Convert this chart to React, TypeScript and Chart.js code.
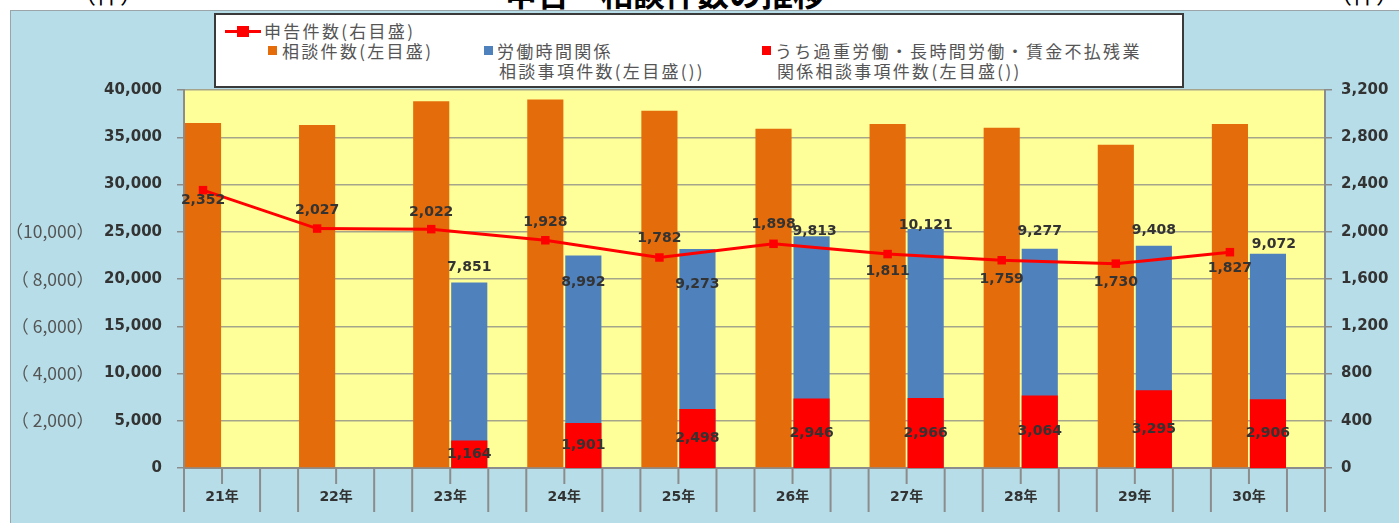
import React, { useEffect, useRef } from 'react';
import { Chart, registerables } from 'chart.js';

Chart.register(...registerables);

// ---- data ----
const years = ['21年', '22年', '23年', '24年', '25年', '26年', '27年', '28年', '29年', '30年'];
const consultations = [36500, 36300, 38800, 39000, 37800, 35900, 36400, 36000, 34200, 36400];
const workingHours = [null, null, 7851, 8992, 9273, 9813, 10121, 9277, 9408, 9072];
const overwork = [null, null, 1164, 1901, 2498, 2946, 2966, 3064, 3295, 2906];
const complaints = [2352, 2027, 2022, 1928, 1782, 1898, 1811, 1759, 1730, 1827];

const leftMax = 40000;
const leftStep = 5000;
const subMax = 16000;
const subStep = 2000;
const subLabelMax = 10000;
const rightMax = 3200;
const rightStep = 400;

// ---- label placement (styles) ----
const lineLabelDy = [10, -18, -17, -18, -19, -19, 17, 19, 19, 16];
const blueLabelDx = [0, 0, 0, 0, 0, 3, 0, 0, 0, 6];
const blueLabelDy = [0, 0, -15, 27, 35, -5, -4, -17, -15, -9];

const fmt = (v: number) => v.toLocaleString('en-US');
const pts = (arr: (number | null)[]) => arr.map((v, i) => ({ x: i, y: v }));

const COLORS = {
  orange: '#E46C0A',
  blue: '#4F81BD',
  red: '#FF0000',
  plot: '#FFFF99',
  grid: '#A5A58C',
  axis: '#8C8C8C',
  text: '#333333',
};

const plotBg = {
  id: 'plotBg',
  beforeDraw(chart: any) {
    const { ctx, chartArea: a } = chart;
    ctx.save();
    ctx.fillStyle = COLORS.plot;
    ctx.fillRect(a.left, a.top, a.right - a.left, a.bottom - a.top);
    ctx.restore();
  },
};

const xTicks = {
  id: 'xTicks',
  afterDraw(chart: any) {
    const xs = chart.scales.x;
    const { ctx } = chart;
    const n = years.length;
    const w = (xs.right - xs.left) / n;
    const y0 = chart.chartArea.bottom;
    ctx.save();
    ctx.strokeStyle = COLORS.axis;
    ctx.lineWidth = 2;
    ctx.beginPath();
    for (let i = 0; i <= n; i++) {
      const x0 = xs.left + i * w;
      ctx.moveTo(x0, y0);
      ctx.lineTo(x0, y0 + 44);
      if (i < n) {
        ctx.moveTo(x0 + w / 3, y0);
        ctx.lineTo(x0 + w / 3, y0 + 16);
        ctx.moveTo(x0 + (2 * w) / 3, y0);
        ctx.lineTo(x0 + (2 * w) / 3, y0 + 44);
      }
    }
    ctx.stroke();
    ctx.restore();
  },
};

const dataLabels = {
  id: 'dataLabels',
  afterDatasetsDraw(chart: any) {
    const { ctx } = chart;
    ctx.save();
    ctx.font = 'bold 14px "DejaVu Sans"';
    ctx.fillStyle = COLORS.text;
    ctx.textAlign = 'center';
    ctx.textBaseline = 'middle';
    const lineMeta = chart.getDatasetMeta(0);
    lineMeta.data.forEach((pt: any, i: number) => {
      ctx.fillText(fmt(complaints[i]), pt.x, pt.y + lineLabelDy[i]);
    });
    const redMeta = chart.getDatasetMeta(3);
    redMeta.data.forEach((bar: any, i: number) => {
      const v = overwork[i];
      if (v == null) return;
      ctx.fillText(fmt(v), bar.x, (bar.y + bar.base) / 2);
    });
    const blueMeta = chart.getDatasetMeta(4);
    blueMeta.data.forEach((bar: any, i: number) => {
      const v = workingHours[i];
      if (v == null) return;
      ctx.fillText(fmt(v), bar.x + blueLabelDx[i], bar.y + blueLabelDy[i]);
    });
    ctx.restore();
  },
};

export default function App() {
  const ref = useRef<HTMLCanvasElement | null>(null);

  useEffect(() => {
    if (!ref.current) return;
    const n = years.length;
    const barCommon = { categoryPercentage: 1, barPercentage: 0.95, grouped: true };
    const chart = new Chart(ref.current, {
      type: 'bar',
      data: {
        datasets: [
          {
            type: 'line',
            label: '申告件数(右目盛)',
            data: pts(complaints),
            yAxisID: 'yR',
            borderColor: COLORS.red,
            backgroundColor: COLORS.red,
            borderWidth: 3,
            pointStyle: 'rect',
            pointRadius: 6,
            pointBorderWidth: 0,
            tension: 0,
          } as any,
          {
            ...barCommon,
            type: 'bar',
            label: '',
            data: [],
            yAxisID: 'y',
            stack: 's0',
          },
          {
            ...barCommon,
            type: 'bar',
            label: '相談件数(左目盛)',
            data: pts(consultations),
            yAxisID: 'y',
            stack: 's1',
            backgroundColor: COLORS.orange,
          },
          {
            ...barCommon,
            type: 'bar',
            label: 'うち過重労働・長時間労働・賃金不払残業関係相談事項件数',
            data: pts(overwork),
            yAxisID: 'yP',
            stack: 's2',
            backgroundColor: COLORS.red,
          },
          {
            ...barCommon,
            type: 'bar',
            label: '労働時間関係相談事項件数',
            data: pts(workingHours),
            yAxisID: 'yP',
            stack: 's2',
            backgroundColor: COLORS.blue,
          },
        ],
      },
      options: {
        responsive: false,
        animation: false,
        devicePixelRatio: 1,
        layout: { padding: { top: 90, left: 0, right: 0, bottom: 0 } },
        plugins: { legend: { display: false }, tooltip: { enabled: false }, title: { display: false } },
        scales: {
          x: {
            type: 'linear',
            offset: false,
            min: -1 / 6,
            max: n - 1 / 6,
            afterBuildTicks(s: any) {
              s.ticks = years.map((_, i) => ({ value: i }));
            },
            grid: { display: false, drawTicks: false, offset: false },
            border: { display: true, color: COLORS.axis, width: 2 },
            ticks: {
              autoSkip: false,
              maxRotation: 0,
              padding: 21,
              labelOffset: 19,
              color: COLORS.text,
              font: { family: '"DejaVu Sans", "Noto Sans CJK JP"', size: 14, weight: 'bold' },
              callback: (v: any) => years[Math.round(Number(v))] ?? '',
            },
            afterFit(s: any) { s.height = 55; },
          },
          y: {
            type: 'linear',
            position: 'left',
            weight: 0,
            min: 0,
            max: leftMax,
            stacked: false,
            ticks: {
              stepSize: leftStep,
              padding: 15,
              color: COLORS.text,
              font: { family: '"DejaVu Sans"', size: 15, weight: 'bold' },
              callback: (v: any) => fmt(Number(v)),
            },
            grid: { color: COLORS.grid, lineWidth: 1.5, tickLength: 7, tickColor: COLORS.axis, tickWidth: 1.5 },
            border: { display: true, color: COLORS.axis, width: 2 },
            afterFit(s: any) { s.width = 84; },
          },
          yP: {
            type: 'linear',
            position: 'left',
            weight: 10,
            min: 0,
            max: subMax,
            stacked: false,
            ticks: {
              stepSize: subStep,
              padding: 6,
              color: '#555555',
              font: { family: '"Noto Sans CJK JP"', size: 17.5 },
              callback: (v: any) => {
                const num = Number(v);
                if (num <= 0 || num > subLabelMax) return '';
                return num < 10000 ? '（ ' + fmt(num) + '）' : '（' + fmt(num) + '）';
              },
            },
            grid: { display: false, drawTicks: false },
            border: { display: false },
            afterFit(s: any) { s.width = 100; },
          },
          yR: {
            type: 'linear',
            position: 'right',
            min: 0,
            max: rightMax,
            ticks: {
              stepSize: rightStep,
              padding: 9,
              color: COLORS.text,
              font: { family: '"DejaVu Sans"', size: 15, weight: 'bold' },
              callback: (v: any) => fmt(Number(v)),
            },
            grid: { drawOnChartArea: false, tickLength: 7, color: COLORS.axis, lineWidth: 1.5 },
            border: { display: true, color: COLORS.axis, width: 2 },
            afterFit(s: any) { s.width = 74; },
          },
        },
      } as any,
      plugins: [plotBg, xTicks, dataLabels],
    });
    return () => chart.destroy();
  }, []);

  const legendText: React.CSSProperties = {
    position: 'absolute',
    fontFamily: '"Noto Sans CJK JP"',
    fontSize: 17,
    letterSpacing: '2.3px',
    color: '#555',
    lineHeight: '20px',
    whiteSpace: 'nowrap',
  };
  const sq = (left: number, top: number, color: string): React.CSSProperties => ({
    position: 'absolute', left, top, width: 9, height: 9, background: color,
  });

  return (
    <div style={{ position: 'absolute', left: 0, top: 0, width: 1399, height: 523, overflow: 'hidden', background: '#fff' }}>
      <div style={{ position: 'absolute', left: 10, top: 10, width: 1389, height: 513, background: '#B7DEE8', borderTop: '1.5px solid #9AA5AA', borderLeft: '1.5px solid #9AA5AA', boxSizing: 'border-box' }} />
      <div style={{ position: 'absolute', left: 0, top: -24, width: 1330, textAlign: 'center', fontFamily: '"Noto Sans CJK JP"', fontWeight: 'bold', fontSize: 32, lineHeight: '32px', color: '#000' }}>申告・相談件数の推移</div>
      <div style={{ position: 'absolute', left: 72, top: -19, fontFamily: '"Noto Sans CJK JP"', fontSize: 24, lineHeight: '24px', color: '#000' }}>（件）</div>
      <div style={{ position: 'absolute', left: 1328, top: -19, fontFamily: '"Noto Sans CJK JP"', fontSize: 24, lineHeight: '24px', color: '#000' }}>（件）</div>
      <canvas ref={ref} width={1399} height={523} style={{ position: 'absolute', left: 0, top: 0, width: 1399, height: 523 }} />
      <div style={{ position: 'absolute', left: 214, top: 13, width: 970, height: 75, background: '#fff', border: '2px solid #3A3A3A', boxSizing: 'border-box' }} />
      <div style={{ position: 'absolute', left: 225, top: 30, width: 36, height: 3, background: COLORS.red }} />
      <div style={{ position: 'absolute', left: 237, top: 26, width: 12, height: 11, background: COLORS.red }} />
      <div style={{ ...legendText, left: 264, top: 21 }}>申告件数(右目盛)</div>
      <div style={sq(268, 46, COLORS.orange)} />
      <div style={{ ...legendText, left: 282, top: 41 }}>相談件数(左目盛)</div>
      <div style={sq(484, 46, COLORS.blue)} />
      <div style={{ ...legendText, left: 497, top: 41 }}>労働時間関係</div>
      <div style={{ ...legendText, left: 499, top: 61 }}>相談事項件数(左目盛())</div>
      <div style={sq(762, 46, COLORS.red)} />
      <div style={{ ...legendText, left: 775, top: 41 }}>うち過重労働・長時間労働・賃金不払残業</div>
      <div style={{ ...legendText, left: 777, top: 61 }}>関係相談事項件数(左目盛())</div>
    </div>
  );
}
